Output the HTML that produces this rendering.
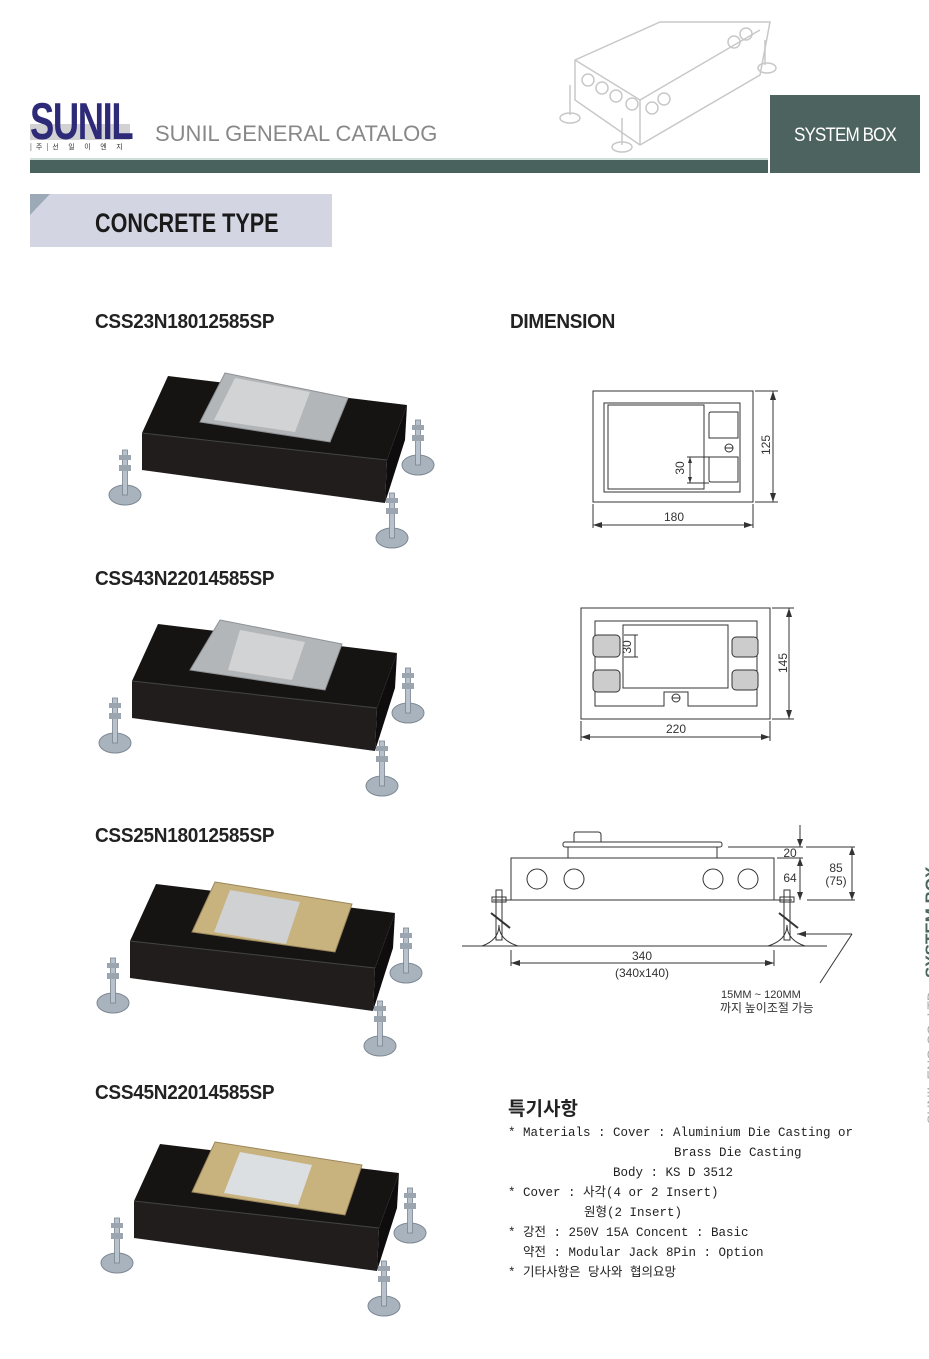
<!DOCTYPE html>
<html><head><meta charset="utf-8"><style>
html,body{margin:0;padding:0;background:#fff;}
body{width:929px;height:1359px;position:relative;overflow:hidden;font-family:"Liberation Sans","Noto Sans CJK KR",sans-serif;}
.a{position:absolute;white-space:nowrap;}
.model{font-family:"Liberation Sans",sans-serif;font-weight:bold;font-size:20px;color:#222;transform:scaleX(0.95);transform-origin:left center;letter-spacing:-0.3px;}
.n{font-family:"Liberation Mono","Noto Sans CJK KR",monospace;font-size:12.5px;color:#222;line-height:20px;}
</style></head><body>
<svg width="929" height="1359" style="position:absolute;left:0;top:0" xmlns="http://www.w3.org/2000/svg">
<defs>
<g id="foot">
  <ellipse cx="0" cy="0" rx="16" ry="10" fill="#a8b3bd" stroke="#7d8893" stroke-width="1"/>
  <rect x="-2.5" y="-45" width="5" height="45" fill="#b8c2cc" stroke="#7b8590" stroke-width="0.8"/>
  <rect x="-6" y="-30" width="12" height="6" fill="#9aa5af"/>
  <rect x="-6" y="-40" width="12" height="5" fill="#9aa5af"/>
</g>
<g id="box">
  <use href="#foot" x="125" y="495"/>
  <use href="#foot" x="418" y="465"/>
  <polygon points="168,376 407,405 387,460 142,433" fill="#161313"/>
  <polygon points="142,433 387,460 385,503 142,470" fill="#211d1d"/>
  <polygon points="407,405 405,440 385,503 387,460" fill="#0e0c0c"/>
  <line x1="142" y1="433" x2="387" y2="460" stroke="#444" stroke-width="1"/>
  <use href="#foot" x="392" y="538"/>
</g>
</defs>

<g stroke="#c8c8c8" stroke-width="1.5" fill="none">
  <polygon points="575,60 660,22 770,22 760,75 640,145 575,100"/>
  <line x1="575" y1="60" x2="640" y2="100"/><line x1="640" y1="100" x2="760" y2="30"/>
  <line x1="640" y1="100" x2="640" y2="145"/>
  <circle cx="588" cy="80" r="6"/><circle cx="602" cy="88" r="6"/><circle cx="616" cy="96" r="6"/><circle cx="632" cy="104" r="6"/>
  <circle cx="652" cy="108" r="6"/><circle cx="664" cy="99" r="6"/><circle cx="734" cy="42" r="6"/><circle cx="746" cy="34" r="6"/>
  <line x1="570" y1="85" x2="570" y2="115"/><ellipse cx="570" cy="118" rx="10" ry="5"/>
  <line x1="622" y1="118" x2="622" y2="145"/><ellipse cx="622" cy="147" rx="10" ry="5"/>
  <line x1="765" y1="40" x2="765" y2="65"/><ellipse cx="767" cy="68" rx="9" ry="5"/>
</g>

<rect x="30" y="159" width="738" height="14" fill="#4a625e"/>
<rect x="30" y="158" width="738" height="2" fill="#cfe0dc"/>
<rect x="770" y="95" width="150" height="78" fill="#4d635f"/>
<text x="845" y="141" text-anchor="middle" font-family="Liberation Sans" font-size="19" fill="#fff" letter-spacing="-1" transform="scale(0.9,1)" transform-origin="845 141">SYSTEM BOX</text>

<rect x="30" y="124" width="100" height="16" fill="#8e8e96" opacity="0.4"/>
<text x="30" y="139" font-family="Liberation Sans" font-weight="bold" font-size="52" fill="#2d2a78" transform="scale(0.7,1)" transform-origin="30 139" letter-spacing="-2">SUNIL</text>
<text x="30" y="149" font-family="Noto Sans CJK KR,sans-serif" font-size="7" fill="#333" letter-spacing="4">|주|선 일 이 엔 지</text>
<text x="155" y="141" font-family="Liberation Sans" font-size="22" fill="#888">SUNIL GENERAL CATALOG</text>

<rect x="30" y="194" width="302" height="53" fill="#d3d6e2"/>
<polygon points="30,194 50,194 30,215" fill="#9caab8"/>
<text x="95" y="232" font-family="Liberation Sans" font-weight="bold" font-size="27" fill="#1a1a1a" transform="scale(0.8,1)" transform-origin="95 232">CONCRETE TYPE</text>

<use href="#box"/>
<polygon points="225,373 348,398 330,442 200,422" fill="#b3b6b8" stroke="#8f9295"/>
<polygon points="235,378 310,392 295,432 214,420" fill="#d2d3d4"/>

<use href="#box" transform="translate(-10,248)"/>
<polygon points="220,620 342,644 325,690 190,670" fill="#b3b6b8" stroke="#8f9295"/>
<polygon points="240,630 305,642 292,680 228,670" fill="#d2d3d4"/>

<use href="#box" transform="translate(-12,508)"/>
<polygon points="215,882 352,904 335,952 192,932" fill="#c8b27e" stroke="#9a875a"/>
<polygon points="230,890 300,902 286,944 214,932" fill="#cfd1d3"/>

<use href="#box" transform="translate(-8,768)"/>
<polygon points="215,1142 362,1165 345,1215 192,1192" fill="#c8b27e" stroke="#9a875a"/>
<polygon points="240,1152 312,1165 298,1205 224,1193" fill="#dcdfe2"/>

<g stroke="#333" stroke-width="1" fill="none">
  <rect x="593" y="391" width="160" height="111"/>
  <rect x="604" y="403" width="136" height="89"/>
  <rect x="608" y="405" width="96" height="84"/>
  <path d="M709,438 V414 q0,-2 2,-2 H738 V438 Z"/>
  <path d="M709,457 V480 q0,2 2,2 H738 V457 Z"/>
  <circle cx="729" cy="448" r="4"/><line x1="725" y1="448" x2="733" y2="448"/>
  <line x1="687" y1="457" x2="709" y2="457"/><line x1="687" y1="483" x2="709" y2="483"/>
  <line x1="690" y1="457" x2="690" y2="483"/>
  <line x1="755" y1="391" x2="778" y2="391"/><line x1="755" y1="502" x2="778" y2="502"/>
  <line x1="773" y1="391" x2="773" y2="502"/>
  <line x1="593" y1="504" x2="593" y2="528"/><line x1="753" y1="504" x2="753" y2="528"/>
  <line x1="593" y1="525" x2="753" y2="525"/>
</g>
<g fill="#333">
  <polygon points="773,391 770,400 776,400"/><polygon points="773,502 770,493 776,493"/>
  <polygon points="593,525 602,522 602,528"/><polygon points="753,525 744,522 744,528"/>
  <polygon points="690,457 688,463 692,463"/><polygon points="690,483 688,477 692,477"/>
</g>
<g font-family="Liberation Sans" font-size="12" fill="#333">
  <text x="674" y="521" text-anchor="middle">180</text>
  <text transform="translate(770,445) rotate(-90)" text-anchor="middle">125</text>
  <text transform="translate(684,468) rotate(-90)" text-anchor="middle">30</text>
</g>

<g stroke="#333" stroke-width="1" fill="none">
  <rect x="581" y="608" width="189" height="111"/>
  <path d="M595,621 H757 V706 H688 V692 H664 V706 H595 Z"/>
  <rect x="623" y="625" width="105" height="63" fill="#fff"/>
  <circle cx="676" cy="698" r="4"/><line x1="672" y1="698" x2="680" y2="698"/>
  <line x1="624" y1="635" x2="638" y2="635"/><line x1="624" y1="657" x2="638" y2="657"/>
  <line x1="635" y1="635" x2="635" y2="657"/>
  <line x1="772" y1="608" x2="794" y2="608"/><line x1="772" y1="719" x2="794" y2="719"/>
  <line x1="789" y1="608" x2="789" y2="719"/>
  <line x1="581" y1="721" x2="581" y2="741"/><line x1="770" y1="721" x2="770" y2="741"/>
  <line x1="581" y1="737" x2="770" y2="737"/>
</g>
<g fill="#ccc" stroke="#333" stroke-width="1">
  <rect x="593" y="635" width="27" height="22" rx="4"/><rect x="593" y="670" width="27" height="22" rx="4"/>
  <rect x="732" y="637" width="26" height="20" rx="4"/><rect x="732" y="670" width="26" height="20" rx="4"/>
</g>
<g fill="#333">
  <polygon points="789,608 786,617 792,617"/><polygon points="789,719 786,710 792,710"/>
  <polygon points="581,737 590,734 590,740"/><polygon points="770,737 761,734 761,740"/>
</g>
<g font-family="Liberation Sans" font-size="12" fill="#333">
  <text x="676" y="733" text-anchor="middle">220</text>
  <text transform="translate(787,663) rotate(-90)" text-anchor="middle">145</text>
  <text transform="translate(631,647) rotate(-90)" text-anchor="middle">30</text>
</g>

<g stroke="#333" stroke-width="1" fill="none">
  <rect x="511" y="858" width="263" height="42"/>
  <rect x="568" y="847" width="149" height="11"/>
  <rect x="563" y="842" width="159" height="5" rx="2"/>
  <path d="M574,842 V834 q0,-2 2,-2 H598 q3,0 3,3 V842"/>
  <circle cx="537" cy="879" r="10"/><circle cx="574" cy="879" r="10"/>
  <circle cx="713" cy="879" r="10"/><circle cx="748" cy="879" r="10"/>
  <line x1="493" y1="900" x2="537" y2="900"/><line x1="748" y1="900" x2="792" y2="900"/>
  <rect x="496" y="890" width="6" height="50"/><rect x="784" y="890" width="6" height="50"/>
  <rect x="492" y="897" width="14" height="5"/><rect x="780" y="897" width="14" height="5"/>
  <path d="M482,946 Q499,940 499,925 Q499,940 518,946"/>
  <path d="M768,946 Q787,940 787,925 Q787,940 805,946"/>
  <line x1="491" y1="913" x2="510" y2="928" stroke-width="2"/>
  <line x1="779" y1="913" x2="798" y2="928" stroke-width="2"/>
  <line x1="462" y1="946" x2="827" y2="946"/>
  <line x1="511" y1="950" x2="511" y2="966"/><line x1="774" y1="950" x2="774" y2="966"/>
  <line x1="511" y1="963" x2="774" y2="963"/>
  <line x1="728" y1="847" x2="803" y2="847"/><line x1="777" y1="858" x2="803" y2="858"/>
  <line x1="807" y1="900" x2="855" y2="900"/><line x1="806" y1="847" x2="855" y2="847"/>
  <line x1="800" y1="825" x2="800" y2="847"/><line x1="800" y1="858" x2="800" y2="900"/>
  <line x1="852" y1="847" x2="852" y2="900"/>
  <line x1="797" y1="934" x2="852" y2="934"/><line x1="852" y1="934" x2="820" y2="983"/>
</g>
<g fill="#333">
  <polygon points="511,963 520,960 520,966"/><polygon points="774,963 765,960 765,966"/>
  <polygon points="800,847 797,839 803,839"/><polygon points="800,858 797,866 803,866"/><polygon points="800,900 797,892 803,892"/>
  <polygon points="852,847 849,855 855,855"/><polygon points="852,900 849,892 855,892"/>
  <polygon points="797,934 806,931 806,937"/>
</g>
<g font-family="Liberation Sans" font-size="12" fill="#333">
  <text x="642" y="960" text-anchor="middle">340</text>
  <text x="642" y="977" text-anchor="middle">(340x140)</text>
  <text x="790" y="857" text-anchor="middle">20</text>
  <text x="790" y="882" text-anchor="middle">64</text>
  <text x="836" y="872" text-anchor="middle">85</text>
  <text x="836" y="885" text-anchor="middle">(75)</text>
  <text x="721" y="998" font-size="11">15MM ~ 120MM</text>
  <text x="720" y="1012" font-size="12" font-family="Noto Sans CJK KR,sans-serif">까지 높이조절 가능</text>
</g>

<g transform="translate(937,1124) rotate(-90)">
  <text x="0" y="0" font-family="Liberation Sans" font-size="14" fill="#aaa">SUNIL ENG CO.,LTD.</text>
  <text x="146" y="0" font-family="Liberation Sans" font-weight="bold" font-size="17" fill="#4d635f">SYSTEM BOX</text>
</g>
</svg>

<div class="a model" style="left:95px;top:311px;">CSS23N18012585SP</div>
<div class="a model" style="left:95px;top:568px;">CSS43N22014585SP</div>
<div class="a model" style="left:95px;top:825px;">CSS25N18012585SP</div>
<div class="a model" style="left:95px;top:1082px;">CSS45N22014585SP</div>
<div class="a model" style="left:510px;top:311px;">DIMENSION</div>

<div class="a" style="left:508px;top:1094px;font-family:'Noto Sans CJK KR',sans-serif;font-weight:bold;font-size:19px;color:#222;">특기사항</div>
<div class="a n" style="left:508px;top:1123px;">* Materials : Cover : Aluminium Die Casting or</div>
<div class="a n" style="left:674px;top:1143px;">Brass Die Casting</div>
<div class="a n" style="left:613px;top:1163px;">Body : KS D 3512</div>
<div class="a n" style="left:508px;top:1183px;">* Cover : 사각(4 or 2 Insert)</div>
<div class="a n" style="left:584px;top:1203px;">원형(2 Insert)</div>
<div class="a n" style="left:508px;top:1223px;">* 강전 : 250V 15A Concent : Basic</div>
<div class="a n" style="left:523px;top:1243px;">약전 : Modular Jack 8Pin : Option</div>
<div class="a n" style="left:508px;top:1263px;">* 기타사항은 당사와 협의요망</div>
</body></html>
